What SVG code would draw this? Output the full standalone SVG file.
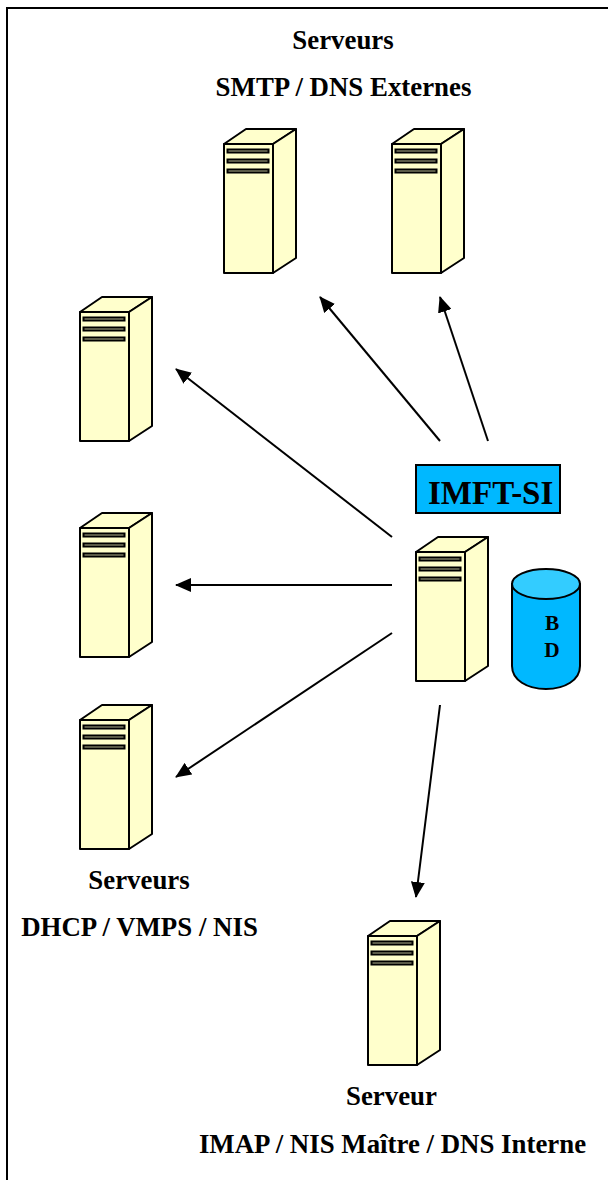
<svg xmlns="http://www.w3.org/2000/svg" xmlns:xlink="http://www.w3.org/1999/xlink" width="608" height="1180" viewBox="0 0 608 1180">
<style>
.o{stroke:#000;stroke-width:2;stroke-linejoin:round}
.t{font-family:"Liberation Serif","Times New Roman",serif;font-weight:700;font-size:26.850px;fill:#000}
.c line{stroke:#000;stroke-width:2;marker-end:url(#a)}
</style>
<defs>
<marker id="a" markerUnits="userSpaceOnUse" markerWidth="16" markerHeight="14" refX="15" refY="7" orient="auto"><path d="M0 0L16 7L0 14Z" fill="#000"/></marker>
<g id="srv">
<path class="o" d="M0 15L22 0H72L49 15Z" fill="#ffc"/>
<path class="o" d="M49 15L72 0V129L49 144Z" fill="#ffc"/>
<rect class="o" x="0" y="15" width="49" height="129" fill="#ffc"/>
<g fill="#b3b38f" stroke="#000" stroke-width="2"><rect x="3.500" y="20.500" width="41" height="3"/><rect x="3.500" y="30.500" width="41" height="3"/><rect x="3.500" y="40.500" width="41" height="3"/></g>
</g>
</defs>
<rect width="608" height="1180" fill="#fff"/>
<path id="frame" d="M7 1180V8H608" fill="none" stroke="#000" stroke-width="2"/>
<g class="c" id="connectors">
<line x1="440" y1="441" x2="320" y2="297"/>
<line x1="488" y1="441" x2="440" y2="297"/>
<line x1="392" y1="537" x2="176" y2="369"/>
<line x1="392" y1="585" x2="176" y2="585"/>
<line x1="392" y1="633" x2="176" y2="777"/>
<line x1="440" y1="705" x2="416" y2="897"/>
</g>
<g id="s1"><use href="#srv" x="224" y="129"/></g>
<g id="s2"><use href="#srv" x="392" y="129"/></g>
<g id="s3"><use href="#srv" x="80" y="297"/></g>
<g id="s4"><use href="#srv" x="80" y="513"/></g>
<g id="s5"><use href="#srv" x="80" y="705"/></g>
<g id="s6"><use href="#srv" x="416" y="537"/></g>
<g id="s7"><use href="#srv" x="368" y="921"/></g>
<g id="imft"><rect x="416" y="465" width="144" height="48" fill="#00b8ff" stroke="#000" stroke-width="2"/><text class="t" x="428" y="504" style="font-size:33px">IMFT-SI</text></g>
<g id="bd">
<path class="o" d="M512 584V666C512 680 527 689 546 689S580 680 580 666V584Z" fill="#00b8ff"/>
<ellipse class="o" cx="546" cy="584" rx="34" ry="15" fill="#3cf"/>
<text class="t" x="552" y="630" text-anchor="middle" style="font-size:21.300px">B</text>
<text class="t" x="552" y="657" text-anchor="middle" style="font-size:21.300px">D</text>
</g>
<g id="labels">
<text class="t" x="343" y="49" text-anchor="middle">Serveurs</text>
<text class="t" x="343.500" y="96" text-anchor="middle">SMTP / DNS Externes</text>
<text class="t" x="139" y="889" text-anchor="middle">Serveurs</text>
<text class="t" x="139.500" y="936" text-anchor="middle">DHCP / VMPS / NIS</text>
<text class="t" x="391.500" y="1105" text-anchor="middle">Serveur</text>
<text class="t" x="392.500" y="1153" text-anchor="middle">IMAP / NIS Maître / DNS Interne</text>
</g>
</svg>
